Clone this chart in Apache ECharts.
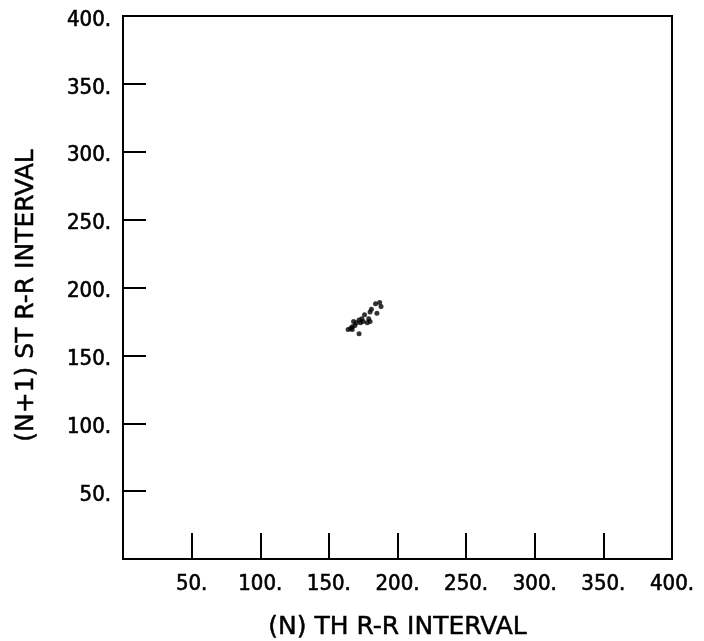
<!DOCTYPE html>
<html>
<head>
<meta charset="utf-8">
<style>
  html, body { margin: 0; padding: 0; background: #fff; }
  #chart { width: 704px; height: 641px; }
</style>
<script src="https://cdn.jsdelivr.net/npm/echarts@6/dist/echarts.min.js"></script>
</head>
<body>
<div id="chart"></div>
<script>
// Poincaré-style return map of successive R-R intervals
const nthInterval = [187, 184, 188, 181, 180, 185, 176, 179, 180, 174, 172, 173, 175, 178, 170, 168, 169, 167, 166, 164, 167, 172];
const nextInterval = [189, 188, 186, 184, 182, 181, 180, 177, 175, 177, 176, 174, 175, 174, 174, 175, 172, 171, 170, 169, 169, 166];
const axisTicks = [50, 100, 150, 200, 250, 300, 350, 400];

const points = nthInterval.map((x, i) => [x, nextInterval[i]]);
const LABEL_FONT = 'DejaVu Sans Condensed';
const TITLE_FONT = 'DejaVu Sans';
const fmt = v => (axisTicks.indexOf(v) >= 0 ? v + '.' : '');

const labelStyle = {
  fontFamily: LABEL_FONT, fontSize: 22, color: '#000',
  textBorderColor: '#000', textBorderWidth: 0.6
};
const titleStyle = {
  fontFamily: TITLE_FONT, fontSize: 25, color: '#000',
  textBorderColor: '#000', textBorderWidth: 0.5
};

const chart = echarts.init(document.getElementById('chart'));
chart.setOption({
  backgroundColor: '#fff',
  animation: false,
  grid: {
    left: 123, right: 32, top: 16, bottom: 82,
    containLabel: false, outerBoundsMode: 'none',
    show: true, borderColor: '#000', borderWidth: 2
  },
  xAxis: {
    type: 'value', min: 0, max: 400, interval: 50,
    name: '(N) TH R-R INTERVAL', nameLocation: 'middle', nameGap: 56,
    nameTextStyle: titleStyle,
    axisLine: { lineStyle: { color: '#000', width: 2 } },
    axisTick: { inside: true, length: 26, lineStyle: { color: '#000', width: 2 } },
    axisLabel: Object.assign({ formatter: fmt, margin: 14, showMaxLabel: true }, labelStyle),
    splitLine: { show: false }
  },
  yAxis: {
    type: 'value', min: 0, max: 400, interval: 50,
    name: '(N+1) ST R-R INTERVAL', nameLocation: 'middle', nameGap: 84, nameRotate: 90,
    nameTextStyle: Object.assign({ padding: [0, 16, 0, 0] }, titleStyle),
    axisLine: { lineStyle: { color: '#000', width: 2 } },
    axisTick: { inside: true, length: 23, lineStyle: { color: '#000', width: 2 } },
    axisLabel: Object.assign({ formatter: fmt, margin: 12, showMaxLabel: true, verticalAlign: 'top', lineHeight: 8 }, labelStyle),
    splitLine: { show: false }
  },
  series: [{
    type: 'scatter',
    data: points,
    symbol: 'circle',
    symbolSize: 5,
    itemStyle: { color: '#000' }
  }]
});
</script>
</body>
</html>
